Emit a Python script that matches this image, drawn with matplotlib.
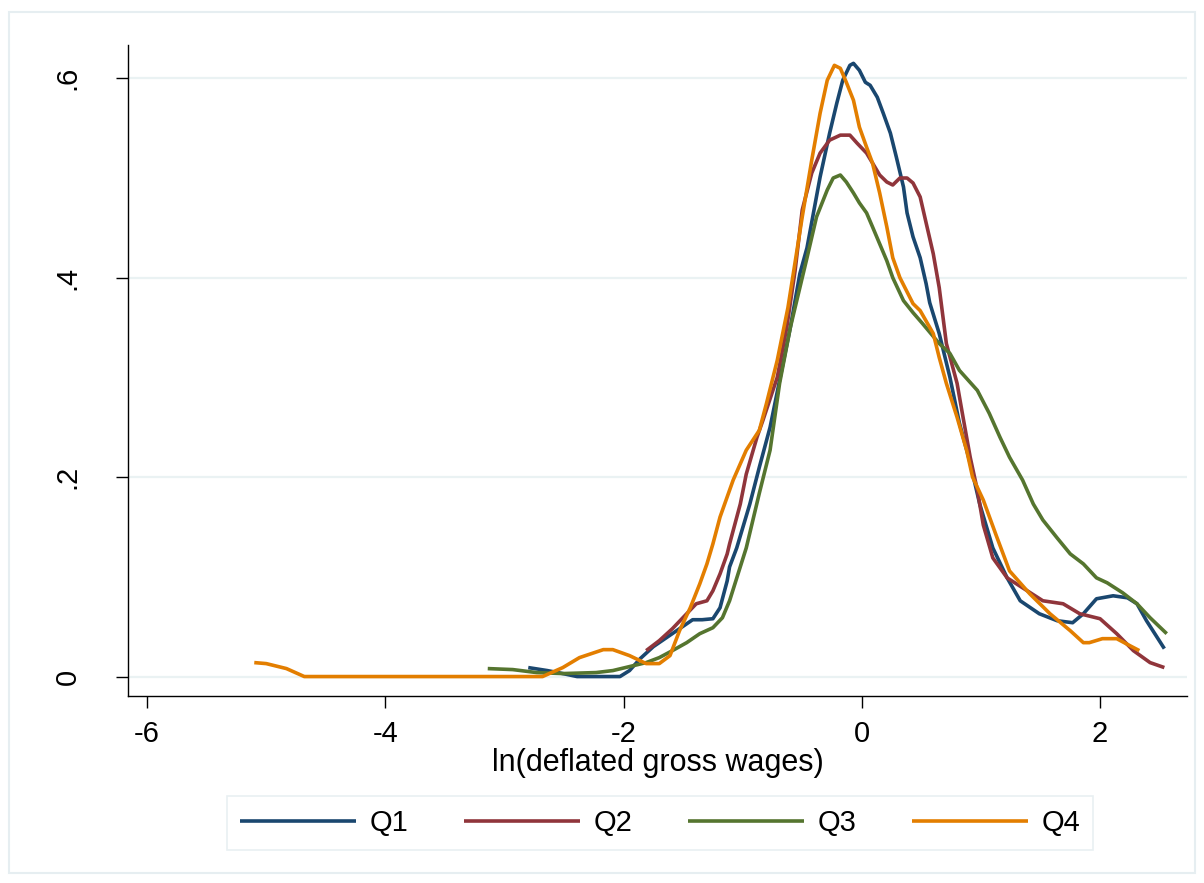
import matplotlib
matplotlib.use("Agg")
import matplotlib.pyplot as plt
from matplotlib.patches import Rectangle

plt.rcParams['font.family'] = ['Liberation Sans', 'DejaVu Sans']

# ---- data ----
q1_x = [-2.80, -2.64, -2.51, -2.39, -2.03, -1.95, -1.86, -1.75, -1.64, -1.53, -1.42, -1.34, -1.25, -1.19,
        -1.13, -1.11, -1.05, -0.94, -0.86, -0.77, -0.69, -0.60, -0.52, -0.46, -0.35, -0.27, -0.21, -0.16,
        -0.10, -0.07, -0.02, 0.03, 0.07, 0.13, 0.18, 0.24, 0.29, 0.35, 0.38, 0.43, 0.49, 0.54, 0.57, 0.65,
        0.74, 0.82, 0.91, 0.99, 1.10, 1.22, 1.33, 1.49, 1.64, 1.77, 1.86, 1.97, 2.11, 2.23, 2.31, 2.39, 2.54]
q1_y = [0.009, 0.006, 0.003, 0.000, 0.000, 0.006, 0.018, 0.030, 0.039, 0.048, 0.057, 0.057, 0.058, 0.069,
        0.096, 0.110, 0.129, 0.173, 0.210, 0.250, 0.297, 0.350, 0.404, 0.430, 0.501, 0.545, 0.575, 0.598,
        0.613, 0.615, 0.608, 0.596, 0.593, 0.581, 0.565, 0.545, 0.521, 0.491, 0.465, 0.441, 0.420, 0.394, 0.375, 0.344,
        0.300, 0.254, 0.214, 0.173, 0.129, 0.099, 0.076, 0.063, 0.056, 0.054, 0.063, 0.078, 0.081, 0.079, 0.073, 0.056, 0.028]

q2_x = [-1.81, -1.70, -1.59, -1.47, -1.39, -1.30, -1.25, -1.19, -1.13, -1.11, -1.02, -0.97, -0.88, -0.83,
        -0.71, -0.63, -0.56, -0.50, -0.42, -0.35, -0.27, -0.18, -0.10, -0.04, 0.04, 0.09, 0.15, 0.21, 0.26,
        0.32, 0.38, 0.43, 0.49, 0.54, 0.60, 0.65, 0.71, 0.80, 0.85, 0.91, 0.97, 1.02, 1.10, 1.22, 1.35, 1.52,
        1.69, 1.83, 2.00, 2.14, 2.28, 2.42, 2.54]
q2_y = [0.026, 0.036, 0.048, 0.063, 0.073, 0.076, 0.086, 0.103, 0.123, 0.133, 0.173, 0.203, 0.240, 0.257,
        0.300, 0.350, 0.407, 0.468, 0.505, 0.525, 0.538, 0.543, 0.543, 0.535, 0.525, 0.515, 0.503, 0.496, 0.493,
        0.500, 0.500, 0.495, 0.481, 0.455, 0.424, 0.390, 0.334, 0.294, 0.260, 0.220, 0.187, 0.152, 0.119, 0.099, 0.089, 0.076,
        0.073, 0.063, 0.058, 0.043, 0.026, 0.014, 0.009]

q3_x = [-3.14, -2.93, -2.73, -2.51, -2.23, -2.09, -1.95, -1.81, -1.70, -1.59, -1.47, -1.36, -1.25, -1.17,
        -1.11, -0.97, -0.86, -0.77, -0.69, -0.60, -0.52, -0.46, -0.38, -0.29, -0.24, -0.18, -0.13, -0.07,
        -0.02, 0.04, 0.09, 0.15, 0.21, 0.26, 0.35, 0.43, 0.51, 0.65, 0.74, 0.82, 0.97, 1.07, 1.16, 1.24,
        1.35, 1.44, 1.52, 1.64, 1.75, 1.86, 1.97, 2.06, 2.19, 2.31, 2.42, 2.56]
q3_y = [0.008, 0.007, 0.004, 0.003, 0.004, 0.006, 0.010, 0.014, 0.019, 0.026, 0.034, 0.043, 0.049, 0.059,
        0.076, 0.129, 0.184, 0.227, 0.294, 0.350, 0.390, 0.420, 0.461, 0.488, 0.500, 0.503, 0.496, 0.485,
        0.475, 0.465, 0.451, 0.434, 0.417, 0.400, 0.377, 0.365, 0.354, 0.334, 0.324, 0.307, 0.287, 0.264, 0.240, 0.220,
        0.197, 0.173, 0.157, 0.139, 0.123, 0.113, 0.099, 0.094, 0.084, 0.073, 0.059, 0.043]

q4_x = [-5.10, -5.00, -4.83, -4.68, -2.68, -2.51, -2.37, -2.17, -2.09, -1.95, -1.81, -1.70, -1.61, -1.53,
        -1.44, -1.36, -1.30, -1.25, -1.19, -1.08, -0.97, -0.86, -0.80, -0.71, -0.62, -0.50, -0.42, -0.35,
        -0.29, -0.23, -0.18, -0.13, -0.07, -0.02, 0.04, 0.09, 0.15, 0.21, 0.26, 0.32, 0.43, 0.49, 0.60,
        0.65, 0.71, 0.80, 0.88, 0.93, 1.02, 1.13, 1.24, 1.41, 1.58, 1.75, 1.86, 1.91, 2.02, 2.14, 2.25, 2.33]
q4_y = [0.014, 0.013, 0.008, 0.000, 0.000, 0.009, 0.019, 0.027, 0.027, 0.021, 0.013, 0.013, 0.021, 0.046,
        0.069, 0.093, 0.113, 0.133, 0.160, 0.197, 0.227, 0.247, 0.274, 0.317, 0.370, 0.461, 0.518, 0.565,
        0.598, 0.613, 0.610, 0.596, 0.578, 0.551, 0.531, 0.515, 0.485, 0.451, 0.420, 0.400, 0.374, 0.367, 0.344,
        0.320, 0.294, 0.260, 0.227, 0.200, 0.177, 0.141, 0.106, 0.083, 0.063, 0.046, 0.034, 0.034, 0.038, 0.038, 0.031, 0.026]

series = [("Q1", q1_x, q1_y, "#1a476f"),
          ("Q2", q2_x, q2_y, "#90353b"),
          ("Q3", q3_x, q3_y, "#55752f"),
          ("Q4", q4_x, q4_y, "#e37e00")]

x_ticks = [-6, -4, -2, 0, 2]
y_ticks = [0, 0.2, 0.4, 0.6]
y_ticklabels = ["0", ".2", ".4", ".6"]
x_label = "ln(deflated gross wages)"

W, H = 1204, 883
fig = plt.figure(figsize=(W / 100, H / 100), dpi=100)
fig.patch.set_facecolor("white")
fig.patches.append(Rectangle((9 / W, 1 - 873 / H), (1195 - 9) / W, (873 - 12) / H,
                             transform=fig.transFigure, fill=False,
                             edgecolor="#e6eef1", linewidth=1.5, zorder=0))

ax = fig.add_axes([128 / W, 1 - 696 / H, (1187 - 128) / W, (696 - 45) / H])
ax.set_xlim(-6.16, 2.73)
ax.set_ylim(-0.0195, 0.6334)

handles = []
for name, xs, ys, c in series:
    h, = ax.plot(xs, ys, color=c, lw=2.6, label=name, solid_joinstyle="round",
                 solid_capstyle="butt", zorder=3)
    handles.append(h)

ax.set_yticks(y_ticks)
ax.set_yticklabels(y_ticklabels, rotation=90, va="center")
ax.set_xticks(x_ticks)
ax.set_xticklabels([str(t) for t in x_ticks])
ax.yaxis.grid(True, color="#eaf2f3", lw=1.6, zorder=0)
ax.xaxis.grid(False)
for s in ["top", "right"]:
    ax.spines[s].set_visible(False)
for s in ["left", "bottom"]:
    ax.spines[s].set_linewidth(1.0)
ax.tick_params(axis="both", length=8.5, width=1.0, labelsize=21, direction="out")
ax.tick_params(axis="y", pad=25)
ax.tick_params(axis="x", pad=9)
ax.set_xlabel(x_label, fontsize=22, labelpad=0)

leg = fig.legend(handles=handles, labels=[s[0] for s in series], loc="center",
                 bbox_to_anchor=(660 / W, 1 - 823 / H), ncol=4, fontsize=21,
                 handlelength=4.0, handletextpad=0.45, columnspacing=1.9,
                 frameon=True, fancybox=False, borderpad=0.45)
leg.get_frame().set_edgecolor("#e3ecef")
leg.get_frame().set_linewidth(1.2)

fig.savefig("out.png", dpi=100, facecolor="white")
